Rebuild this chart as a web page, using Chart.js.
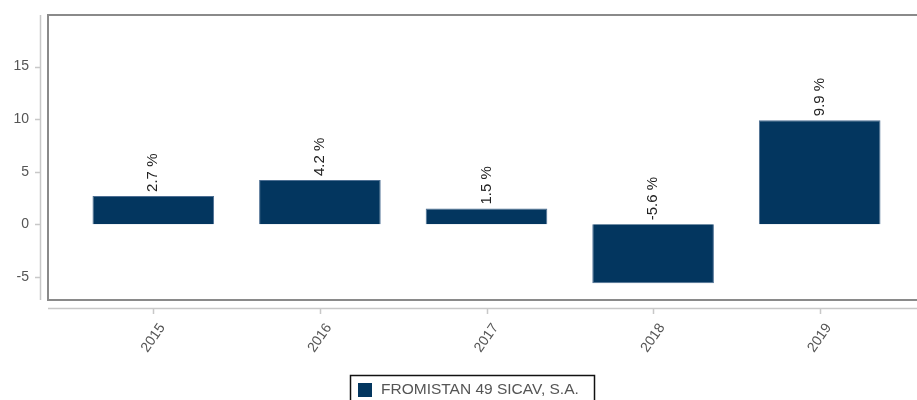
<!DOCTYPE html>
<html>
<head>
<meta charset="utf-8">
<script src="https://cdn.jsdelivr.net/npm/chart.js@4"></script>
<style>
  html, body { margin: 0; padding: 0; background: #fff; }
  canvas { display: block; }
</style>
</head>
<body>
<canvas id="chartReturns" width="917" height="400"></canvas>
<script>
var years = ['2015', '2016', '2017', '2018', '2019'];
var returns = [2.7, 4.2, 1.5, -5.6, 9.9];
var seriesName = 'FROMISTAN 49 SICAV, S.A.';
var barColor = '#03365f';
var fontFamily = '"Liberation Sans", Arial, sans-serif';

// frame, axis lines, ticks, x labels, value labels and boxed legend
var decorPlugin = {
  id: 'decor',
  afterDatasetsDraw: function (chart) {
    var ctx = chart.ctx;
    var area = chart.chartArea;
    var yScale = chart.scales.y;
    var xScale = chart.scales.x;
    ctx.save();

    // plot frame (open on the right, like the original)
    ctx.strokeStyle = '#8a8a8a';
    ctx.lineWidth = 2;
    ctx.beginPath();
    ctx.moveTo(chart.width + 2, area.top);
    ctx.lineTo(48, area.top);
    ctx.lineTo(48, area.bottom);
    ctx.lineTo(chart.width + 2, area.bottom);
    ctx.stroke();

    // y axis line and ticks
    ctx.strokeStyle = '#c8c8c8';
    ctx.lineWidth = 1.5;
    ctx.beginPath();
    ctx.moveTo(40.5, area.top);
    ctx.lineTo(40.5, area.bottom);
    yScale.ticks.forEach(function (t) {
      var y = Math.round(yScale.getPixelForValue(t.value)) + 0.5;
      ctx.moveTo(35, y);
      ctx.lineTo(40, y);
    });
    ctx.stroke();

    // x axis line and ticks
    ctx.beginPath();
    ctx.moveTo(48, area.bottom + 8.5);
    ctx.lineTo(chart.width, area.bottom + 8.5);
    years.forEach(function (y, i) {
      var x = Math.round(xScale.getPixelForValue(i)) + 0.5;
      ctx.moveTo(x, area.bottom + 8.5);
      ctx.lineTo(x, area.bottom + 14);
    });
    ctx.stroke();

    // x labels, centred on their ticks
    ctx.fillStyle = '#555';
    ctx.font = '14px ' + fontFamily;
    ctx.textAlign = 'center';
    ctx.textBaseline = 'middle';
    years.forEach(function (label, i) {
      ctx.save();
      ctx.translate(xScale.getPixelForValue(i), area.bottom + 38);
      ctx.rotate(-55 * Math.PI / 180);
      ctx.fillText(label, 0, 0);
      ctx.restore();
    });

    // value labels
    ctx.fillStyle = '#222';
    ctx.font = '15px ' + fontFamily;
    ctx.textAlign = 'left';
    ctx.textBaseline = 'middle';
    var meta = chart.getDatasetMeta(0);
    meta.data.forEach(function (bar, i) {
      var v = returns[i];
      var y = yScale.getPixelForValue(Math.max(v, 0)) - 4;
      ctx.save();
      ctx.translate(bar.x, y);
      ctx.rotate(-Math.PI / 2);
      ctx.fillText(v.toFixed(1) + ' %', 0, 0);
      ctx.restore();
    });

    // legend
    ctx.strokeStyle = '#111';
    ctx.lineWidth = 1.5;
    ctx.strokeRect(350.5, 375.5, 244, 30);
    ctx.fillStyle = barColor;
    ctx.fillRect(358, 383, 14, 14);
    ctx.fillStyle = '#555';
    ctx.font = '15.5px ' + fontFamily;
    ctx.fillText(seriesName, 381, 390);

    ctx.restore();
  }
};

function renderReturnsChart() {
  var chartReturns = document.getElementById('chartReturns');
  if (chartReturns) {
    new Chart(chartReturns, {
      type: 'bar',
      data: {
        labels: years,
        datasets: [{
          label: seriesName,
          data: returns,
          backgroundColor: barColor,
          borderColor: '#4d6f93',
          borderWidth: 1,
          barPercentage: 0.73,
          categoryPercentage: 1
        }]
      },
      options: {
        responsive: false,
        devicePixelRatio: 1,
        animation: false,
        layout: {
          padding: { top: 15, right: 14, bottom: 0, left: 0 }
        },
        plugins: {
          legend: { display: false },
          tooltip: { enabled: false }
        },
        scales: {
          x: {
            grid: { display: false, drawTicks: false },
            border: { display: false },
            ticks: { display: false },
            afterFit: function (scale) {
              scale.height = 100;
            }
          },
          y: {
            min: -7.2,
            max: 19.9,
            // tick length (not tick padding) pushes the labels left, so the top stays put
            grid: { display: false, drawTicks: true, tickLength: 41 },
            border: { display: false },
            ticks: {
              stepSize: 5,
              color: '#555',
              font: { family: fontFamily, size: 14 },
              padding: 0
            },
            afterBuildTicks: function (scale) {
              scale.ticks = scale.ticks.filter(function (t) {
                return t.value % 5 === 0;
              });
            },
            afterFit: function (scale) {
              scale.width = 70;
            }
          }
        }
      },
      plugins: [decorPlugin]
    });
  }
}

renderReturnsChart();
</script>
</body>
</html>
